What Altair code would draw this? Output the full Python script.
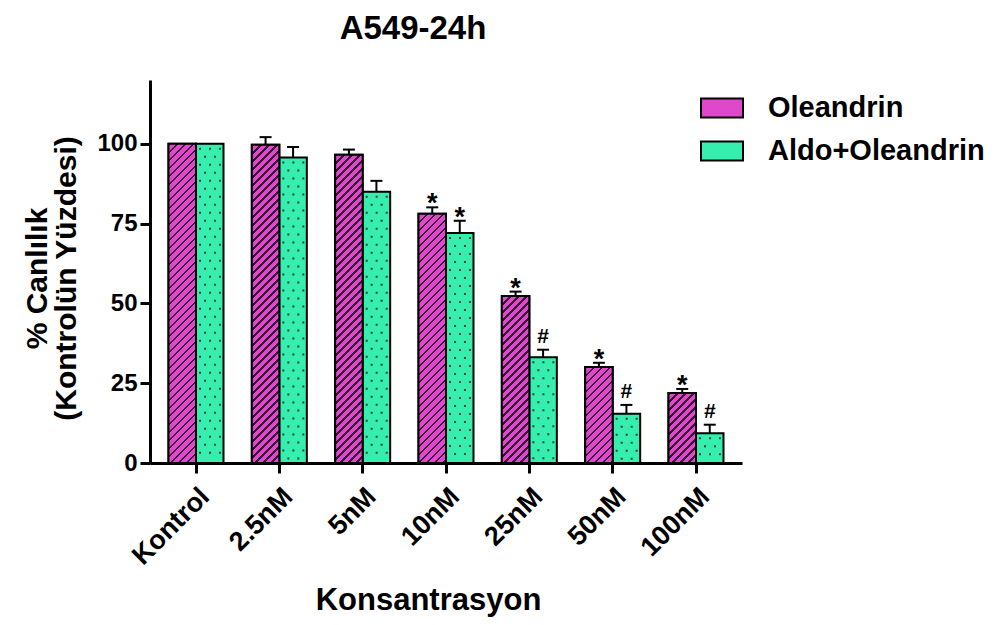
import altair as alt
import pandas as pd

# ---------------- data ----------------
categories = ["Kontrol", "2.5nM", "5nM", "10nM", "25nM", "50nM", "100nM"]
series_names = ["Oleandrin", "Aldo+Oleandrin"]
oleandrin = [100.0, 99.7, 96.6, 78.1, 52.3, 30.1, 21.9]
oleandrin_err = [0.0, 2.4, 1.6, 2.0, 1.4, 1.3, 1.3]
aldo = [100.0, 95.7, 85.0, 72.1, 33.1, 15.4, 9.3]
aldo_err = [0.0, 3.3, 3.4, 3.8, 2.4, 2.8, 2.7]
oleandrin_marks = ["", "", "", "*", "*", "*", "*"]
aldo_marks = ["", "", "", "*", "#", "#", "#"]

rows = []
for i, c in enumerate(categories):
    rows.append(dict(cat=c, series=series_names[0], value=oleandrin[i], err=oleandrin_err[i],
                     upper=oleandrin[i] + oleandrin_err[i], mark=oleandrin_marks[i]))
    rows.append(dict(cat=c, series=series_names[1], value=aldo[i], err=aldo_err[i],
                     upper=aldo[i] + aldo_err[i], mark=aldo_marks[i]))
df = pd.DataFrame(rows)

# ---------------- style ----------------
FONT = "Liberation Sans"
MAG = "#E048CC"
GREEN = "#36EEAE"
DARK = "#3A0F35"
DOT = "#1E4A3A"
W, H = 592, 383
YMAX = 120
PI, PO = 0.34, 0.222
step = W / (len(categories) - PI + 2 * PO)
bar_w = step * (1 - PI) / 2
P_STRIPE, D_STRIPE = 8.0, 2.4

x_scale = alt.Scale(domain=categories, paddingInner=PI, paddingOuter=PO)
xo_scale = alt.Scale(domain=series_names, paddingInner=0, paddingOuter=0)
y_scale = alt.Scale(domain=[0, YMAX], nice=False, zero=True)

x_axis = alt.Axis(labelAngle=-45, labelAlign="right", labelBaseline="top", labelPadding=10,
                  labelFontSize=27, titleFontSize=31, titleX=278, titleY=146,
                  titleBaseline="alphabetic", titleAlign="center", titleAnchor="middle")
y_axis = alt.Axis(values=[0, 25, 50, 75, 100], labelPadding=3, labelFontSize=24,
                  titleFontSize=30, titleLineHeight=29, titleAngle=-90, titleX=-113, titleY=198,
                  titleBaseline="middle", titleAlign="center", titleAnchor="middle")

X = alt.X("cat:N", sort=categories, scale=x_scale, axis=x_axis, title="Konsantrasyon")
XO = alt.XOffset("series:N", sort=series_names, scale=xo_scale)
Y_TITLE = ["% Canlılık", "(Kontrolün Yüzdesi)"]


def Yv(field):
    return alt.Y(field, scale=y_scale, axis=y_axis, title=Y_TITLE)


base = alt.Chart(df)

bars = base.mark_bar(stroke="black", strokeWidth=2).encode(
    x=X, xOffset=XO, y=Yv("value:Q"),
    fill=alt.Fill("series:N", sort=series_names,
                  scale=alt.Scale(domain=series_names, range=[MAG, GREEN]),
                  legend=alt.Legend(title=None, orient="none", legendX=550, legendY=6,
                                    symbolType="M-1,-0.45H1V0.45H-1Z", symbolSize=1764,
                                    symbolStrokeColor="black", symbolStrokeWidth=2,
                                    symbolOpacity=1, labelFont=FONT, labelFontSize=29,
                                    labelFontWeight="bold", labelColor="black",
                                    labelOffset=24, rowPadding=6, padding=0, labelLimit=400)),
)


def stripe_gradient(h):
    w = bar_w
    L = w + h
    stops = []
    k = 0
    while k * P_STRIPE < L:
        s = k * P_STRIPE / L
        e = min((k * P_STRIPE + D_STRIPE) / L, 1.0)
        n = min((k + 1) * P_STRIPE / L, 1.0)
        stops += [(s, DARK), (e, DARK), (e, MAG), (n, MAG)]
        k += 1
    den = w * w + h * h
    return alt.LinearGradient(
        gradient="linear",
        stops=[alt.GradientStop(offset=round(o, 5), color=c) for o, c in stops],
        x1=0, y1=0, x2=round(w * L / den, 6), y2=round(h * L / den, 6),
    )


stripe_layers = []
for c, v in zip(categories, oleandrin):
    h = v * H / YMAX
    stripe_layers.append(
        base.transform_filter((alt.datum.cat == c) & (alt.datum.series == series_names[0]))
        .mark_bar(stroke="black", strokeWidth=2, fill=stripe_gradient(h))
        .encode(x=X, xOffset=XO, y=Yv("value:Q"))
    )

# dotted texture of the green bars: dashed vertical rules at fixed fractions of the band
aldo_only = base.transform_filter(alt.datum.series == series_names[1])
dot_layers = []
for bp, off in [(0.573, 12), (0.755, 12), (0.936, 12), (0.664, 4), (0.845, 4)]:
    dot_layers.append(
        aldo_only.mark_rule(color=DOT, strokeWidth=2, strokeDash=[2, 14], strokeDashOffset=off,
                            strokeCap="butt")
        .encode(x=alt.X("cat:N", sort=categories, scale=x_scale, axis=x_axis,
                        title="Konsantrasyon", bandPosition=bp),
                y=Yv("value:Q"), y2=alt.datum(1))
    )

with_err = base.transform_filter(alt.datum.err > 0)
err_rules = with_err.mark_rule(color="black", strokeWidth=2).encode(
    x=X, xOffset=XO, y=Yv("value:Q"), y2="upper:Q")
err_caps = with_err.mark_tick(color="black", thickness=2, size=12, opacity=1).encode(
    x=X, xOffset=XO, y=Yv("upper:Q"))

stars = base.transform_filter(alt.datum.mark == "*").mark_text(
    font=FONT, fontSize=27, fontWeight="bold", color="black", baseline="alphabetic", dy=5
).encode(x=X, xOffset=XO, y=Yv("upper:Q"), text="mark:N")
hashes = base.transform_filter(alt.datum.mark == "#").mark_text(
    font=FONT, fontSize=21, fontWeight="bold", color="black", baseline="alphabetic", dy=-7
).encode(x=X, xOffset=XO, y=Yv("upper:Q"), text="mark:N")

chart = alt.layer(bars, *stripe_layers, *dot_layers, err_rules, err_caps, stars, hashes).properties(
    width=W, height=H,
    autosize="none",
    padding={"left": 142, "top": 72, "right": 252, "bottom": 154},
    title=alt.TitleParams("A549-24h", font=FONT, fontSize=33, fontWeight="bold", color="black",
                          anchor="middle", frame="group", dx=-33, offset=8,
                          baseline="alphabetic"),
).configure_axis(
    domainColor="black", domainWidth=3, tickColor="black", tickWidth=3, tickSize=10,
    labelFont=FONT, labelFontWeight="bold", labelColor="black",
    titleFont=FONT, titleFontWeight="bold", titleColor="black", grid=False,
).configure_view(stroke=None)

chart.save("out.html", embed_options={"renderer": "svg", "actions": False})
